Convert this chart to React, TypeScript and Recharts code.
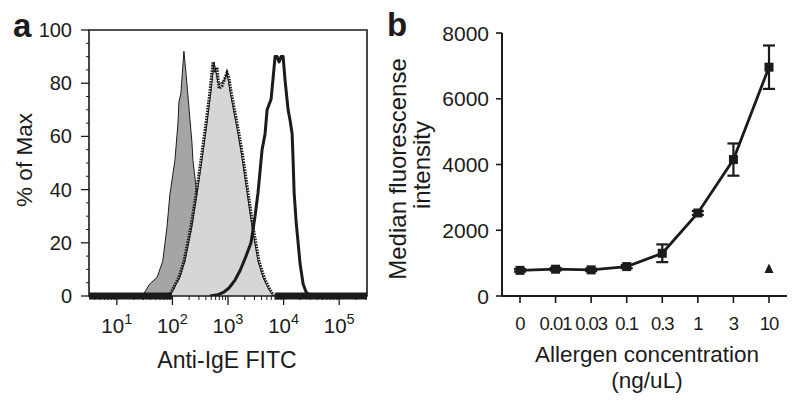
import React from 'react';
import {
  ComposedChart,
  Area,
  Line,
  XAxis,
  YAxis,
  ReferenceLine,
  ReferenceArea,
  ErrorBar,
} from 'recharts';

const FONT = '"Liberation Sans", Arial, Helvetica, sans-serif';
const INK = '#1b1b1b';
const DARK_FILL = '#a4a5a7';
const LIGHT_FILL = '#d5d6d8';

// ---------- Panel a: flow cytometry histograms (fluorescence, % of max) ----------
const isotypeFluor = [29, 33, 39, 53, 67, 80, 90, 111, 126, 131, 142, 161, 175, 198, 224, 234, 276, 313, 355, 419, 474];
const isotypePct = [0, 2, 4.5, 7, 13, 26, 38, 51, 65, 73, 76, 92, 84, 71, 58, 51, 38, 25, 12, 3, 0];

const lowFluor = [90, 102, 136, 168, 224, 276, 340, 419, 455, 494, 560, 661, 748, 847, 959, 1086, 1230, 1514, 1786, 2198, 2704, 3475, 4276, 5260, 6476];
const lowPct = [0, 2, 7, 13, 26, 38, 51, 65, 71, 77, 88, 80, 80, 81, 84, 77, 71, 61, 52, 39, 26, 13, 7, 3, 0];

const dottedFluor = [86.5, 98, 131, 161, 215, 265, 326, 402, 437, 474, 537, 583, 634, 689, 780, 883, 959, 1042, 1132, 1282, 1578, 1862, 2291, 2818, 3622, 4457, 5483, 6745];
const dottedPct = [0, 2, 7, 13, 26, 38, 51, 65, 71, 77, 88, 84, 86, 78, 79, 82, 84, 82, 77, 71, 61, 52, 39, 26, 13, 7, 3, 0];

const highFluor = [474, 661, 847, 1042, 1337, 1644, 2109, 2594, 3063, 3475, 4102, 4645, 5047, 5957, 6476, 7031, 7638, 8298, 9016, 9795, 10640, 12050, 13090, 14230, 14830, 15450, 16790, 18240, 19820, 22440, 25410, 30000];
const highPct = [0, 0.5, 1.5, 3, 6, 9.5, 15, 20, 30, 39, 55, 61, 70, 74, 82, 90, 90, 88, 90, 90, 81, 70, 66, 61, 51, 39, 28, 20, 12, 4.5, 1.5, 0];

const fluorDomain = [3.162, 316228];
const decadeTicks = [10, 100, 1000, 10000, 100000];
const decadeExponents = ['1', '2', '3', '4', '5'];
const minorMultipliers = [2, 3, 4, 5, 6, 7, 8, 9];
const pctTicks = [0, 5, 10, 15, 20, 25, 30, 35, 40, 45, 50, 55, 60, 65, 70, 75, 80, 85, 90, 95, 100];
const thickBaseline = [
  [3.162, 98],
  [7031, 316228],
];

// ---------- Panel b: dose response ----------
const concLabels = ['0', '0.01', '0.03', '0.1', '0.3', '1', '3', '10'];
const medianMfi = [780, 815, 795, 895, 1300, 2525, 4150, 6960];
const mfiErr = [40, 40, 40, 50, 270, 60, 490, 660];
const controlMfi = [null, null, null, null, null, null, null, 820];
const mfiTicks = [0, 2000, 4000, 6000, 8000];

// ---------- build datasets ----------
function mergeSeries(series: [string, number[], number[]][]) {
  const map = new Map<number, any>();
  series.forEach(([key, xs, ys]) => {
    xs.forEach((x, i) => {
      const row = map.get(x) ?? { x };
      row[key] = ys[i];
      map.set(x, row);
    });
  });
  return Array.from(map.values()).sort((a, b) => a.x - b.x);
}

const histData = mergeSeries([
  ['iso', isotypeFluor, isotypePct],
  ['low', lowFluor, lowPct],
  ['dot', dottedFluor, dottedPct],
  ['high', highFluor, highPct],
]);

const fluorTicks = [
  ...decadeTicks,
  ...[1, ...decadeTicks].flatMap((d) => minorMultipliers.map((m) => m * d)),
]
  .filter((v) => v >= fluorDomain[0] && v <= fluorDomain[1])
  .sort((a, b) => a - b);

const doseData = concLabels.map((c, i) => ({
  c,
  mfi: medianMfi[i],
  err: mfiErr[i],
  ctrl: controlMfi[i],
}));

// ---------- custom ticks ----------
const isDecade = (v: number) => decadeTicks.indexOf(v) >= 0;

const FluorTick = (props: any) => {
  const { x, y, payload } = props;
  const v = payload.value;
  if (isDecade(v)) {
    const exp = decadeExponents[decadeTicks.indexOf(v)];
    return (
      <g>
        <line x1={x} y1={y} x2={x} y2={y + 9} stroke={INK} strokeWidth={1.3} />
        <text x={x} y={y + 37} textAnchor="middle" fontFamily={FONT} fontSize={20.5} fill={INK}>
          10
          <tspan dy={-9} fontSize={14.5}>
            {exp}
          </tspan>
        </text>
      </g>
    );
  }
  return <line x1={x} y1={y} x2={x} y2={y + 4} stroke={INK} strokeWidth={1} />;
};

const PctTick = (props: any) => {
  const { x, y, payload } = props;
  const v = payload.value;
  if (v % 20 === 0) {
    return (
      <g>
        <line x1={x - 8} y1={y} x2={x} y2={y} stroke={INK} strokeWidth={1.3} />
        <text x={x - 17} y={y + 7} textAnchor="end" fontFamily={FONT} fontSize={20} fill={INK}>
          {v}
        </text>
      </g>
    );
  }
  return <line x1={x - 3} y1={y} x2={x} y2={y} stroke={INK} strokeWidth={1} />;
};

const ConcTick = (props: any) => {
  const { x, y, payload } = props;
  return (
    <g>
      <line x1={x} y1={y} x2={x} y2={y + 7} stroke={INK} strokeWidth={1.6} />
      <text
        x={x}
        y={y + 34}
        textAnchor="middle"
        fontFamily={FONT}
        fontSize={18.5}
        style={{ letterSpacing: '-1px' }}
        fill={INK}
      >
        {payload.value}
      </text>
    </g>
  );
};

const MfiTick = (props: any) => {
  const { x, y, payload } = props;
  return (
    <g>
      <line x1={x - 6} y1={y} x2={x} y2={y} stroke={INK} strokeWidth={1.6} />
      <text x={x - 13} y={y + 7.5} textAnchor="end" fontFamily={FONT} fontSize={21} fill={INK}>
        {payload.value}
      </text>
    </g>
  );
};

const SquareDot = (props: any) => {
  const { cx, cy, index } = props;
  if (cx == null || cy == null) return <g key={`sq-${index}`} />;
  return <rect key={`sq-${index}`} x={cx - 4.5} y={cy - 4.5} width={9} height={9} fill={INK} />;
};

const TriangleDot = (props: any) => {
  const { cx, cy, index, value } = props;
  if (cx == null || cy == null || value == null) return <g key={`tr-${index}`} />;
  return (
    <path
      key={`tr-${index}`}
      d={`M${cx},${cy - 5.5} L${cx + 4.5},${cy + 4} L${cx - 4.5},${cy + 4} Z`}
      fill={INK}
    />
  );
};

export default function App() {
  return (
    <div
      style={{
        position: 'fixed',
        left: 0,
        top: 0,
        width: 800,
        height: 404,
        background: '#fff',
        overflow: 'hidden',
      }}
    >
      <div style={{ position: 'absolute', left: 0, top: 0 }}>
        <ComposedChart
          width={400}
          height={404}
          data={histData}
          margin={{ top: 30, right: 33, bottom: 78, left: 29 }}
        >
          <XAxis
            dataKey="x"
            type="number"
            scale="log"
            domain={fluorDomain}
            allowDataOverflow
            ticks={fluorTicks}
            interval={0}
            tick={<FluorTick />}
            tickLine={false}
            tickSize={0}
            tickMargin={0}
            axisLine={false}
            height={30}
          />
          <YAxis
            type="number"
            domain={[0, 100]}
            allowDataOverflow
            ticks={pctTicks}
            interval={0}
            tick={<PctTick />}
            tickLine={false}
            tickSize={0}
            tickMargin={0}
            axisLine={false}
            width={60}
          />
          <Area
            dataKey="iso"
            type="linear"
            connectNulls
            fill={DARK_FILL}
            fillOpacity={1}
            stroke={INK}
            strokeWidth={1}
            dot={false}
            activeDot={false}
            isAnimationActive={false}
          />
          <Area
            dataKey="low"
            type="linear"
            connectNulls
            fill={LIGHT_FILL}
            fillOpacity={1}
            stroke={INK}
            strokeWidth={1}
            dot={false}
            activeDot={false}
            isAnimationActive={false}
          />
          <Line
            dataKey="dot"
            type="linear"
            connectNulls
            stroke={INK}
            strokeWidth={3}
            strokeDasharray="1.6 1.1"
            dot={false}
            activeDot={false}
            isAnimationActive={false}
          />
          <Line
            dataKey="high"
            type="linear"
            connectNulls
            stroke={INK}
            strokeWidth={3}
            strokeLinejoin="round"
            dot={false}
            activeDot={false}
            isAnimationActive={false}
          />
          {thickBaseline.map(([a, b], i) => (
            <ReferenceLine
              key={`base-${i}`}
              segment={[
                { x: a, y: 0 },
                { x: b, y: 0 },
              ]}
              stroke={INK}
              strokeWidth={7}
              ifOverflow="visible"
            />
          ))}
          <ReferenceArea
            x1={fluorDomain[0]}
            x2={fluorDomain[1]}
            y1={0}
            y2={100}
            fill="none"
            fillOpacity={0}
            stroke={INK}
            strokeWidth={1.6}
            ifOverflow="visible"
          />
        </ComposedChart>
      </div>

      <div style={{ position: 'absolute', left: 400, top: 0 }}>
        <ComposedChart
          width={400}
          height={404}
          data={doseData}
          margin={{ top: 33, right: 13, bottom: 78, left: 42 }}
        >
          <XAxis
            dataKey="c"
            type="category"
            scale="point"
            padding={{ left: 18, right: 18 }}
            interval={0}
            tick={<ConcTick />}
            tickLine={false}
            tickSize={0}
            tickMargin={0}
            axisLine={{ stroke: INK, strokeWidth: 2 }}
            height={30}
          />
          <YAxis
            type="number"
            domain={[0, 8000]}
            ticks={mfiTicks}
            interval={0}
            tick={<MfiTick />}
            tickLine={false}
            tickSize={0}
            tickMargin={0}
            axisLine={{ stroke: INK, strokeWidth: 2 }}
            width={60}
          />
          <Line
            dataKey="mfi"
            type="linear"
            stroke={INK}
            strokeWidth={2.8}
            dot={SquareDot}
            activeDot={false}
            isAnimationActive={false}
          >
            <ErrorBar dataKey="err" direction="y" width={6} stroke={INK} strokeWidth={2.2} />
          </Line>
          <Line
            dataKey="ctrl"
            type="linear"
            stroke="none"
            dot={TriangleDot}
            activeDot={false}
            isAnimationActive={false}
          />
        </ComposedChart>
      </div>

      <svg
        width={800}
        height={404}
        style={{ position: 'absolute', left: 0, top: 0, pointerEvents: 'none' }}
      >
        <text x={13} y={37} fontFamily={FONT} fontSize={33} fontWeight="bold" fill={INK}>
          a
        </text>
        <text x={387} y={36} fontFamily={FONT} fontSize={33} fontWeight="bold" fill={INK}>
          b
        </text>
        <text
          x={32}
          y={160}
          transform="rotate(-90 32 160)"
          textAnchor="middle"
          fontFamily={FONT}
          fontSize={22.5}
          fill={INK}
        >
          % of Max
        </text>
        <text x={227} y={368} textAnchor="middle" fontFamily={FONT} fontSize={23} fill={INK}>
          Anti-IgE FITC
        </text>
        <text
          x={406}
          y={169}
          transform="rotate(-90 406 169)"
          textAnchor="middle"
          fontFamily={FONT}
          fontSize={24}
          fill={INK}
        >
          Median fluorescense
        </text>
        <text
          x={430}
          y={165}
          transform="rotate(-90 430 165)"
          textAnchor="middle"
          fontFamily={FONT}
          fontSize={24}
          fill={INK}
        >
          intensity
        </text>
        <text x={647} y={362} textAnchor="middle" fontFamily={FONT} fontSize={22.5} fill={INK}>
          Allergen concentration
        </text>
        <text x={647} y={388} textAnchor="middle" fontFamily={FONT} fontSize={22.5} fill={INK}>
          (ng/uL)
        </text>
      </svg>
    </div>
  );
}
